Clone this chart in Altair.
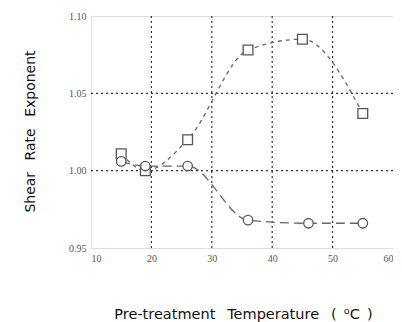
import altair as alt
import pandas as pd

temp_sq = [15, 19, 26, 36, 45, 55]
exp_sq = [1.011, 1.000, 1.020, 1.078, 1.085, 1.037]
temp_ci = [15, 19, 26, 36, 46, 55]
exp_ci = [1.006, 1.003, 1.003, 0.968, 0.966, 0.966]
grid_x = [20, 30, 40, 50]
grid_y = [1.00, 1.05]
x_ticks = [10, 20, 30, 40, 50, 60]
y_ticks = [0.95, 1.00, 1.05, 1.10]

sq = pd.DataFrame({"t": temp_sq, "e": exp_sq})
ci = pd.DataFrame({"t": temp_ci, "e": exp_ci})
gx = pd.DataFrame({"v": grid_x})
gy = pd.DataFrame({"v": grid_y})

xs = alt.Scale(domain=[10, 60], nice=False, zero=False)
ys = alt.Scale(domain=[0.95, 1.10], nice=False, zero=False)

xax = alt.Axis(values=x_ticks, format="d", grid=False,
               ticks=False, domain=False, labelFontSize=10, labelColor="#555",
               labelFont="Liberation Sans Narrow", labelPadding=5,
               title="Pre-treatment\u2002 Temperature\u2002 (\u2002\u2070C\u2002)",
               titleFontSize=14.5, titleFont="DejaVu Sans", titleFontWeight="normal",
               titleColor="#111", titleX=152, titleY=70, titleAnchor="start",
               titleAlign="center", titleBaseline="alphabetic")
yax = alt.Axis(values=y_ticks, format=".2f", grid=False,
               ticks=False, domain=False, labelFontSize=10, labelColor="#555",
               labelFont="Liberation Sans Narrow", labelPadding=5,
               title="Shear\u2002 Rate\u2002 Exponent", titleFontSize=14,
               titleFont="DejaVu Sans", titleFontWeight="normal", titleColor="#111",
               titleX=-61, titleY=115, titleAlign="center", titleBaseline="middle",
               titleAngle=270)

grid_v = alt.Chart(gx).mark_rule(color="#333", strokeWidth=1.2,
                                 strokeDash=[2, 3]).encode(
    x=alt.X("v:Q", scale=xs, axis=xax))
grid_h = alt.Chart(gy).mark_rule(color="#333", strokeWidth=1.2,
                                 strokeDash=[2, 3]).encode(
    y=alt.Y("v:Q", scale=ys, axis=yax))
line_sq = alt.Chart(sq).mark_line(interpolate="monotone", color="#666",
                                  strokeWidth=1.3, strokeDash=[4, 4]).encode(
    x=alt.X("t:Q", scale=xs), y=alt.Y("e:Q", scale=ys))
line_ci = alt.Chart(ci).mark_line(interpolate="monotone", color="#666",
                                  strokeWidth=1.3, strokeDash=[9, 5]).encode(
    x=alt.X("t:Q", scale=xs), y=alt.Y("e:Q", scale=ys))
pt_sq = alt.Chart(sq).mark_point(shape="square", size=95, filled=True,
                                 fill="white", stroke="#555", strokeWidth=1.3,
                                 opacity=1).encode(
    x=alt.X("t:Q", scale=xs), y=alt.Y("e:Q", scale=ys))
pt_ci = alt.Chart(ci).mark_point(shape="circle", size=90, filled=True,
                                 fill="white", stroke="#555", strokeWidth=1.3,
                                 opacity=1).encode(
    x=alt.X("t:Q", scale=xs), y=alt.Y("e:Q", scale=ys))

chart = alt.layer(grid_v, grid_h, line_sq, line_ci, pt_sq, pt_ci).properties(
    width=302, height=232,
    autosize=alt.AutoSizeParams(type="none"),
    padding={"left": 83, "top": 8, "right": 0, "bottom": 74},
).configure_view(stroke="#999", strokeWidth=2).configure(background="white")

chart.save("out.html", embed_options={"renderer": "svg", "actions": False})
